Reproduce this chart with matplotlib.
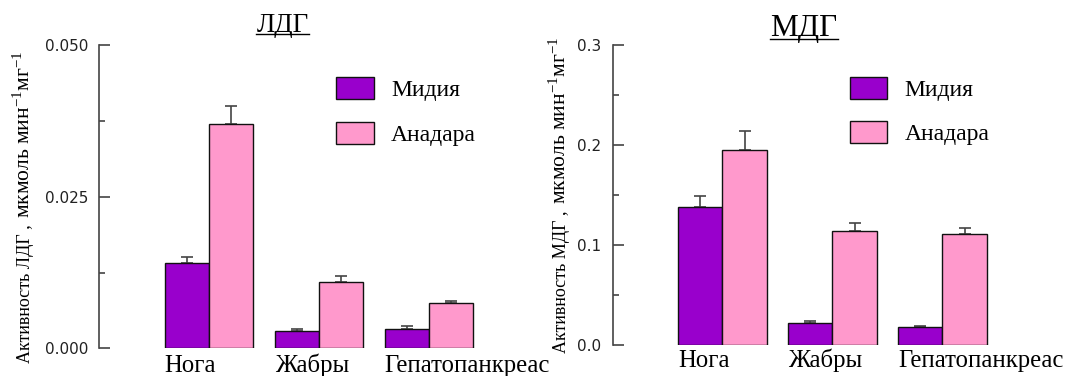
import matplotlib
matplotlib.use('Agg')
import matplotlib.pyplot as plt
import numpy as np
from matplotlib.lines import Line2D

plt.rcParams['mathtext.fontset'] = 'custom'
plt.rcParams['mathtext.rm'] = 'Liberation Serif'
plt.rcParams['mathtext.it'] = 'Liberation Serif:italic'

# values
tissues = ['Нога', 'Жабры', 'Гепатопанкреас']
species = ['Мидия', 'Анадара']

ldh_mussel = [0.0140, 0.0029, 0.0032]
ldh_mussel_err = [0.0010, 0.0003, 0.0005]
ldh_anadara = [0.0370, 0.0110, 0.0074]
ldh_anadara_err = [0.0030, 0.0010, 0.0004]

mdh_mussel = [0.138, 0.022, 0.018]
mdh_mussel_err = [0.011, 0.002, 0.001]
mdh_anadara = [0.195, 0.114, 0.111]
mdh_anadara_err = [0.019, 0.008, 0.006]

ldh_ticks = [0.0, 0.025, 0.050]
ldh_ticklabels = ['0.000', '0.025', '0.050']
mdh_ticks = [0.0, 0.1, 0.2, 0.3]
mdh_ticklabels = ['0.0', '0.1', '0.2', '0.3']

purple = '#9900cc'
pink = '#ff99cc'
serif = 'Liberation Serif'

W, H = 1066, 376
fig = plt.figure(figsize=(W / 100, H / 100), dpi=100)

ax1 = fig.add_axes([99.3 / W, (H - 348.3) / H, 400 / W, 303 / H])
ax2 = fig.add_axes([612.7 / W, (H - 344.7) / H, 400 / W, 299.4 / H])

bw = 0.403
x = np.arange(len(tissues))


def draw_panel(ax, mussel, mussel_err, anadara, anadara_err, ticks, ticklabels, lab_pad):
    zeros = np.zeros(len(x))
    b1 = ax.bar(x, mussel, width=bw, align='edge', color=purple,
                edgecolor='#111111', linewidth=1.0, label=species[0], zorder=3)
    b2 = ax.bar(x + bw, anadara, width=bw, align='edge', color=pink,
                edgecolor='#111111', linewidth=1.0, label=species[1], zorder=3)
    ax.errorbar(x + bw / 2, mussel, yerr=[zeros, mussel_err], fmt='none',
                ecolor='#444444', elinewidth=1.2, capsize=4, capthick=1.2, zorder=2)
    ax.errorbar(x + bw * 1.5, anadara, yerr=[zeros, anadara_err], fmt='none',
                ecolor='#444444', elinewidth=1.2, capsize=4, capthick=1.2, zorder=2)

    ax.set_xlim(-0.595, -0.595 + 400 / 110)
    ax.set_ylim(ticks[0], ticks[-1])
    for s in ['top', 'right', 'bottom']:
        ax.spines[s].set_visible(False)
    ax.spines['left'].set_color('#444444')
    ax.spines['left'].set_linewidth(1.2)

    ax.set_yticks(ticks, ticklabels)
    minor = [(a + b) / 2 for a, b in zip(ticks[:-1], ticks[1:])]
    ax.set_yticks(minor, minor=True)
    ax.tick_params(axis='y', which='major', direction='in', length=8.2,
                   width=1.2, color='#444444', pad=8, labelsize=11,
                   labelcolor='#222222')
    ax.tick_params(axis='y', which='minor', direction='in', length=4.1,
                   width=1.2, color='#444444')

    ax.set_xticks(x, tissues)
    for lab in ax.get_xticklabels():
        lab.set_ha('left')
        lab.set_va('baseline')
        lab.set_family(serif)
        lab.set_fontsize(17.8)
    ax.tick_params(axis='x', length=0, pad=lab_pad)

    ax.legend(handles=[b1, b2], loc='upper left', bbox_to_anchor=(0.593, 0.894),
              frameon=False, borderaxespad=0, borderpad=0,
              prop={'family': serif, 'size': 17},
              handlelength=1.57, handleheight=1.06, labelspacing=0.85,
              handletextpad=0.74)


draw_panel(ax1, ldh_mussel, ldh_mussel_err, ldh_anadara, ldh_anadara_err,
           ldh_ticks, ldh_ticklabels, 17.0)
draw_panel(ax2, mdh_mussel, mdh_mussel_err, mdh_anadara, mdh_anadara_err,
           mdh_ticks, mdh_ticklabels, 16.4)

# titles, underlined
t1 = fig.text(282.5 / W, 1 - 31.7 / H, 'ЛДГ', ha='center', va='baseline',
              family=serif, fontsize=19.5)
t2 = fig.text(804 / W, 1 - 36 / H, 'МДГ', ha='center', va='baseline',
              family=serif, fontsize=22.5)

# y labels: two parts with different sizes
y1a = fig.text(30 / W, 1 - 363 / H, 'Активность ЛДГ ,', rotation=90,
               rotation_mode='anchor', ha='left', va='baseline',
               family=serif, fontsize=13)
y2a = fig.text(566 / W, 1 - 353 / H, 'Активность МДГ ,', rotation=90,
               rotation_mode='anchor', ha='left', va='baseline',
               family=serif, fontsize=13)

fig.canvas.draw()
r = fig.canvas.get_renderer()

for t, gap in [(t1, 2.6), (t2, 3.3)]:
    bb = t.get_window_extent(r)
    base = float(t.get_position()[1]) * H
    fig.add_artist(Line2D([bb.x0 / W, bb.x1 / W], [(base - gap) / H] * 2,
                          color='black', linewidth=1.0))

for t, xpix in [(y1a, 30), (y2a, 566)]:
    bb = t.get_window_extent(r)
    fig.text(xpix / W, (bb.y1 + 6) / H, 'мкмоль мин$^{-1}$мг$^{-1}$',
             rotation=90, rotation_mode='anchor', ha='left', va='baseline',
             family=serif, fontsize=15.5)

fig.savefig('out.png', dpi=100)
